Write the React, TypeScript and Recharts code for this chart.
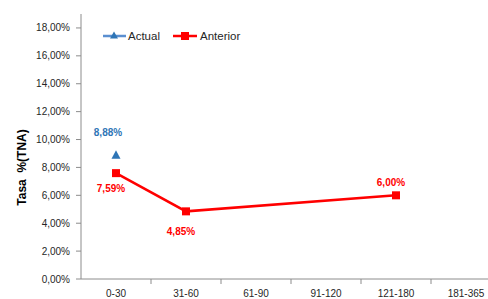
import { LineChart, Line, XAxis, YAxis, LabelList, Legend } from "recharts";

const categories = ["0-30", "31-60", "61-90", "91-120", "121-180", "181-365"];
const actual = [8.88, null, null, null, null, null];
const anterior = [7.59, 4.85, null, null, 6.0, null];
const anteriorLabelSide = ["below", "below", "below", "below", "above", "below"];
const yTicks = [0, 2, 4, 6, 8, 10, 12, 14, 16, 18];

const data = categories.map((name, i) => ({
  name,
  actual: actual[i],
  anterior: anterior[i],
}));

const BLUE = "#2E75B6";
const RED = "#FF0000";
const AXIS = "#8C8C8C";
const FONT = "'Liberation Sans', Arial, sans-serif";

const fmt = (v: number) => v.toFixed(2).replace(".", ",") + "%";

const Triangle = (props: any) => {
  const { cx, cy } = props;
  if (cx == null || cy == null || props.value == null) return null;
  return (
    <path
      d={`M${cx},${cy - 5} L${cx + 4.5},${cy + 3.5} L${cx - 4.5},${cy + 3.5} Z`}
      fill={BLUE}
    />
  );
};

const Square = (props: any) => {
  const { cx, cy } = props;
  if (cx == null || cy == null || props.value == null) return null;
  return <rect x={cx - 4} y={cy - 4} width={8} height={8} fill={RED} />;
};

const XTick = (props: any) => {
  const { x, y, payload } = props;
  return (
    <g>
      <line x1={x + 35} y1={y - 8} x2={x + 35} y2={y - 3} stroke={AXIS} />
      <text
        x={x}
        y={y + 10}
        textAnchor="middle"
        fontSize={10}
        fontFamily={FONT}
        fill="#262626"
      >
        {payload.value}
      </text>
    </g>
  );
};

const ActualLabel = (props: any) => {
  const { x, y, value } = props;
  if (value == null) return null;
  return (
    <text
      x={x - 8}
      y={y - 19}
      textAnchor="middle"
      fontSize={10}
      fontWeight="bold"
      fontFamily={FONT}
      fill={BLUE}
    >
      {fmt(value)}
    </text>
  );
};

const AnteriorLabel = (props: any) => {
  const { x, y, value, index } = props;
  if (value == null) return null;
  const above = anteriorLabelSide[index] === "above";
  const dy = above ? -9 : index === 1 ? 24 : 19;
  return (
    <text
      x={x - 5}
      y={y + dy}
      textAnchor="middle"
      fontSize={10}
      fontWeight="bold"
      fontFamily={FONT}
      fill={RED}
    >
      {fmt(value)}
    </text>
  );
};

const LegendContent = () => (
  <svg width={150} height={16}>
    <line x1={2} y1={8} x2={25} y2={8} stroke="#5B8FD0" strokeWidth={2.5} />
    <path d="M13,3.5 L17,10.5 L9,10.5 Z" fill={BLUE} />
    <text x={27} y={12} fontSize={11.5} fontFamily={FONT} fill="#262626">
      Actual
    </text>
    <line x1={72} y1={8} x2={96} y2={8} stroke={RED} strokeWidth={2.5} />
    <rect x={80} y={4} width={8} height={8} fill={RED} />
    <text x={99} y={12} fontSize={11.5} fontFamily={FONT} fill="#262626">
      Anterior
    </text>
  </svg>
);

const YLabel = (props: any) => {
  const { viewBox } = props;
  const cx = viewBox.x + 22;
  const cy = viewBox.y + viewBox.height / 2 + 21;
  return (
    <text
      transform={`translate(${cx},${cy}) rotate(-90)`}
      textAnchor="middle"
      dominantBaseline="central"
      fontSize={12}
      fontWeight="bold"
      fontFamily={FONT}
      fill="#000"
      style={{ whiteSpace: "pre" }}
    >
      {"Tasa  %(TNA)"}
    </text>
  );
};

export default function App() {
  return (
    <div
      style={{
        position: "absolute",
        left: 0,
        top: 0,
        width: 488,
        height: 299,
        overflow: "hidden",
        background: "#fff",
      }}
    >
      <LineChart
        width={510}
        height={299}
        data={data}
        margin={{ top: 14, right: 9, left: 0, bottom: 0 }}
      >
        <XAxis
          dataKey="name"
          scale="band"
          height={20}
          stroke={AXIS}
          tickLine={false}
          tick={<XTick />}
          interval={0}
        />
        <YAxis
          width={81}
          domain={[0, 19]}
          ticks={yTicks}
          allowDataOverflow
          stroke={AXIS}
          tickSize={5}
          tickMargin={6}
          tickFormatter={fmt}
          tick={{ fontSize: 10, fontFamily: FONT, fill: "#262626" }}
          label={<YLabel />}
        />
        <Legend
          layout="horizontal"
          verticalAlign="middle"
          align="center"
          content={<LegendContent />}
          wrapperStyle={{ position: "absolute", left: 101, top: 28, width: 150 }}
        />
        <Line
          dataKey="actual"
          stroke="none"
          isAnimationActive={false}
          dot={<Triangle />}
          activeDot={false}
        >
          <LabelList dataKey="actual" content={<ActualLabel />} />
        </Line>
        <Line
          dataKey="anterior"
          stroke={RED}
          strokeWidth={2.5}
          connectNulls
          isAnimationActive={false}
          dot={<Square />}
          activeDot={false}
        >
          <LabelList dataKey="anterior" content={<AnteriorLabel />} />
        </Line>
      </LineChart>
    </div>
  );
}
